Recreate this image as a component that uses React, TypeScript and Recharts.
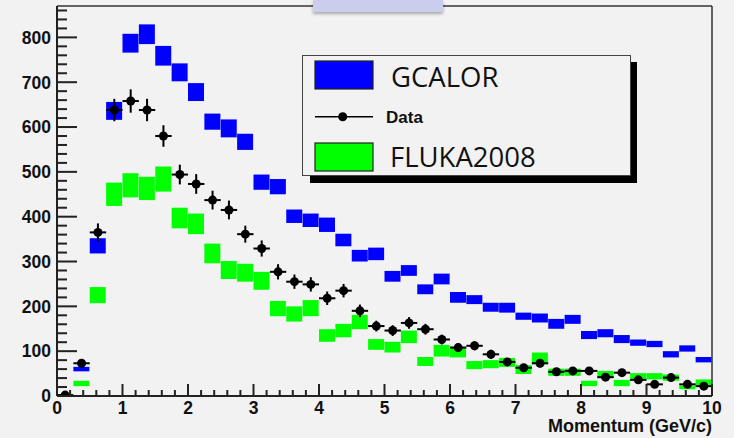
import React from 'react';
import { ComposedChart, Bar, Scatter, ErrorBar, XAxis, YAxis, ReferenceLine, Label } from 'recharts';

// bin centres (GeV/c), bins are 0.25 wide
const binCenters = [
  0.125, 0.375, 0.625, 0.875, 1.125, 1.375, 1.625, 1.875, 2.125, 2.375,
  2.625, 2.875, 3.125, 3.375, 3.625, 3.875, 4.125, 4.375, 4.625, 4.875,
  5.125, 5.375, 5.625, 5.875, 6.125, 6.375, 6.625, 6.875, 7.125, 7.375,
  7.625, 7.875, 8.125, 8.375, 8.625, 8.875, 9.125, 9.375, 9.625, 9.875,
];

const gcalorValues = [
  0, 60, 335, 636, 787, 807, 759, 722, 678, 612,
  597, 567, 477, 467, 401, 392, 382, 348, 313, 317,
  267, 280, 238, 261, 220, 215, 198, 197, 178, 174,
  161, 171, 136, 140, 127, 119, 116, 93, 106, 81,
];
const gcalorErrors = [
  0, 5, 17, 20, 21, 22, 22, 20, 20, 18,
  20, 18, 17, 17, 15, 15, 16, 14, 13, 14,
  12, 12, 11, 12, 12, 10, 10, 11, 8, 10,
  11, 10, 9, 9, 9, 7, 7, 7, 7, 6,
];

const flukaValues = [
  2, 28, 225, 450, 470, 463, 484, 397, 384, 318,
  281, 275, 257, 195, 183, 196, 135, 146, 165, 115,
  109, 132, 77, 101, 98, 69, 71, 75, 59, 84,
  53, 53, 28, 48, 29, 44, 44, 41, 19, 29,
];
const flukaErrors = [
  2, 6, 18, 26, 27, 26, 28, 23, 23, 22,
  20, 20, 20, 17, 17, 18, 14, 15, 16, 12,
  12, 14, 10, 13, 12, 9, 9, 10, 10, 13,
  8, 8, 6, 8, 7, 7, 7, 7, 4, 8,
];

const dataValues = [
  2, 73, 365, 638, 658, 638, 580, 494, 473, 437,
  415, 361, 329, 277, 255, 249, 218, 235, 190, 156,
  146, 163, 149, 126, 108, 112, 93, 76, 63, 73,
  54, 56, 56, 42, 52, 36, 26, 41, 26, 22,
];
const dataErrors = [
  3, 8, 20, 25, 26, 25, 24, 22, 22, 21,
  21, 19, 18, 17, 16, 16, 15, 15, 14, 12,
  12, 13, 12, 11, 10, 10, 10, 9, 8, 9,
  7, 7, 7, 6, 7, 6, 5, 6, 5, 5,
];

const BIN_HALF = 0.125;
const X_MAX = 10;
const Y_MAX = 870;

const xTicks = Array.from({ length: 51 }, (_, i) => i / 5);
const yTicks = Array.from({ length: 44 }, (_, i) => i * 20);

const rows = binCenters.map((x, i) => ({
  bin: String(x),
  x,
  gcalor: [gcalorValues[i] - gcalorErrors[i], gcalorValues[i] + gcalorErrors[i]],
  fluka: [flukaValues[i] - flukaErrors[i], flukaValues[i] + flukaErrors[i]],
  y: dataValues[i],
  yErr: dataErrors[i],
  xErr: BIN_HALF,
}));

const tickFont = { fontFamily: '"Liberation Sans", Arial, sans-serif', fontWeight: 700, fontSize: 17.5, fill: '#111' };
const axisColor = '#222';

const XTick = (props: any) => {
  const { x, y, payload } = props;
  const v = payload.value;
  const major = Math.abs(v - Math.round(v)) < 1e-6;
  return (
    <g>
      <line x1={x} x2={x} y1={y} y2={y - (major ? 12 : 6)} stroke={axisColor} strokeWidth={2} />
      {major && (
        <text x={x} y={y + 18} textAnchor="middle" style={tickFont}>
          {Math.round(v)}
        </text>
      )}
    </g>
  );
};

const YTick = (props: any) => {
  const { x, y, payload } = props;
  const v = payload.value;
  const major = v % 100 === 0;
  return (
    <g>
      <line x1={x} x2={x + (major ? 20 : 10)} y1={y} y2={y} stroke={axisColor} strokeWidth={2} />
      {major && (
        <text x={x - 6} y={y} dy="0.36em" textAnchor="end" style={tickFont}>
          {v}
        </text>
      )}
    </g>
  );
};

const DataDot = (props: any) => <circle cx={props.cx} cy={props.cy} r={4.5} fill="#000" />;

const AxisTitle = (props: any) => {
  const vb = props.viewBox;
  return (
    <text
      x={vb.x + vb.width}
      y={vb.y + 36}
      textAnchor="end"
      style={{ ...tickFont, fontSize: 18 }}
    >
      Momentum (GeV/c)
    </text>
  );
};

const LegendBox = () => (
  <svg width={340} height={130} style={{ position: 'absolute', left: 302, top: 55 }}>
    <rect x={8} y={7} width={327} height={121} fill="#000" />
    <rect x={0.5} y={0.5} width={328} height={120} fill="#f2f2f2" stroke="#444" strokeWidth={1} />
    <rect x={13} y={6} width={58} height={28} fill="#0000ff" stroke="#222" strokeWidth={1.2} />
    <text x={89} y={32} style={{ fontFamily: '"Open Sans", sans-serif', fontSize: 27.5, fill: '#111' }}>
      GCALOR
    </text>
    <line x1={13} x2={71} y1={61.7} y2={61.7} stroke="#000" strokeWidth={1.5} />
    <circle cx={40.7} cy={61.7} r={4.5} fill="#000" />
    <text x={84} y={67.5} style={{ ...tickFont, fontSize: 17 }}>
      Data
    </text>
    <rect x={13} y={88} width={58} height={28} fill="#00ff00" stroke="#222" strokeWidth={1.2} />
    <text x={88} y={111.5} style={{ fontFamily: '"Open Sans", sans-serif', fontSize: 27.5, fill: '#111' }}>
      FLUKA2008
    </text>
  </svg>
);

export default function App() {
  return (
    <div style={{ position: 'absolute', left: 0, top: 0, width: 734, height: 438, background: '#f2f2f2', overflow: 'hidden' }}>
      <ComposedChart
        width={734}
        height={438}
        data={rows}
        margin={{ top: 6, right: 22, left: 0, bottom: 0 }}
        barCategoryGap={0}
        barGap={0}
      >
        <XAxis
          xAxisId="num"
          type="number"
          dataKey="x"
          domain={[0, X_MAX]}
          ticks={xTicks}
          interval={0}
          allowDataOverflow
          height={42}
          tickSize={0}
          tickMargin={0}
          tick={<XTick />}
          axisLine={{ stroke: axisColor, strokeWidth: 2 }}
        >
          <Label content={<AxisTitle />} />
        </XAxis>
        <XAxis xAxisId="gcalorBins" type="category" dataKey="bin" orientation="top" height={0} hide />
        <XAxis xAxisId="flukaBins" type="category" dataKey="bin" orientation="top" height={0} hide />
        <YAxis
          type="number"
          domain={[0, Y_MAX]}
          ticks={yTicks}
          interval={0}
          allowDataOverflow
          width={57}
          tickSize={0}
          tickMargin={0}
          tick={<YTick />}
          axisLine={{ stroke: axisColor, strokeWidth: 2 }}
        />
        <Bar xAxisId="gcalorBins" dataKey="gcalor" fill="#0000ff" isAnimationActive={false} />
        <Bar xAxisId="flukaBins" dataKey="fluka" fill="#00ff00" isAnimationActive={false} />
        <Scatter xAxisId="num" dataKey="y" shape={<DataDot />} isAnimationActive={false}>
          <ErrorBar dataKey="yErr" direction="y" width={0} stroke="#000" strokeWidth={2} isAnimationActive={false} />
          <ErrorBar dataKey="xErr" direction="x" width={0} stroke="#000" strokeWidth={2} isAnimationActive={false} />
        </Scatter>
        <ReferenceLine xAxisId="num" y={Y_MAX} stroke="#333" strokeWidth={1.5} />
        <ReferenceLine xAxisId="num" x={X_MAX} stroke="#333" strokeWidth={1.5} />
      </ComposedChart>
      <div
        style={{
          position: 'absolute',
          left: 313,
          top: 0,
          width: 130,
          height: 12,
          background: '#cbcdec',
          boxShadow: '0 2px 3px rgba(0,0,0,0.3)',
        }}
      />
      <LegendBox />
    </div>
  );
}
